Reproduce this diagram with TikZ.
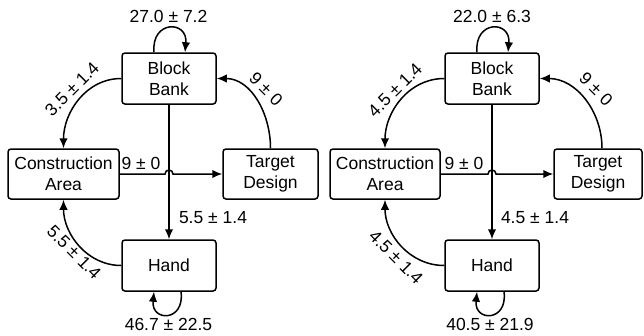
\documentclass[tikz,border=0pt]{standalone}
\usepackage{fontspec}
\setmainfont{Liberation Sans}
\usetikzlibrary{arrows.meta}
\tikzstyle{Box}=[rectangle, rounded corners=3pt, draw=black, line width=1.5pt, align=center, inner sep=0pt, minimum height=51pt]
\tikzstyle{Flow}=[-{Latex[length=10pt,width=8.5pt]}, line width=1.5pt]
\tikzstyle{Lbl}=[inner sep=0pt]

\begin{document}
\begin{tikzpicture}[x=1pt, y=-1pt, font=\fontsize{17.5}{21}\selectfont]
    \useasboundingbox (0,0) rectangle (644,335);

    % left diagram
    \path
    (169,78.5) node[Box, minimum width=94pt] (bbL) {Block\\Bank}
    (63.5,174) node[Box, minimum width=111pt, minimum height=50pt] (caL) {Construction\\Area}
    (270.5,174) node[Box, minimum width=95pt, minimum height=50pt] (tdL) {Target\\Design}
    (169,265.5) node[Box, minimum width=94pt] (hdL) {Hand};

    \draw[Flow] ([xshift=-15pt]bbL.north) .. controls (151,20) and (188,20) .. ([xshift=16pt]bbL.north);
    \draw[Flow] ([xshift=12pt]hdL.south) .. controls (185,322) and (151,322) .. ([xshift=-15pt]hdL.south);
    \draw[Flow] (bbL.west) to[out=180, in=90] (caL.north);
    \draw[Flow] (tdL.north) to[out=90, in=0] (bbL.east);
    \draw[Flow] (hdL.west) to[out=180, in=-90] (caL.south);
    \draw[Flow] (bbL.south) -- (hdL.north);
    \draw[Flow] (caL.east) -- ([xshift=-4pt]caL.east -| bbL.south) arc[start angle=180, end angle=0, radius=4pt] -- (tdL.west);

    \path
    (168.5,16.5) node[Lbl] (bbloopL) {27.0 ± 7.2}
    (168.5,324) node[Lbl] (hdloopL) {46.7 ± 22.5}
    (72,89) node[Lbl, rotate=45] (bbcaL) {3.5 ± 1.4}
    (266,89) node[Lbl, rotate=-45] (tdbbL) {9 ± 0}
    (74,252) node[Lbl, rotate=-45] (hdcaL) {5.5 ± 1.4}
    (213,218) node[Lbl] (bbhdL) {5.5 ± 1.4}
    (141,163) node[Lbl] (catdL) {9 ± 0};

    % right diagram
    \path
    (492,78.5) node[Box, minimum width=94pt] (bbR) {Block\\Bank}
    (385,174) node[Box, minimum width=110pt, minimum height=50pt] (caR) {Construction\\Area}
    (598,174) node[Box, minimum width=88pt, minimum height=50pt] (tdR) {Target\\Design}
    (492,265.5) node[Box, minimum width=94pt] (hdR) {Hand};

    \draw[Flow] ([xshift=-15pt]bbR.north) .. controls (474,20) and (511,20) .. ([xshift=16pt]bbR.north);
    \draw[Flow] ([xshift=12pt]hdR.south) .. controls (508,322) and (474,322) .. ([xshift=-15pt]hdR.south);
    \draw[Flow] (bbR.west) to[out=180, in=90] (caR.north);
    \draw[Flow] ([xshift=4pt]tdR.north) to[out=90, in=0] (bbR.east);
    \draw[Flow] (hdR.west) to[out=180, in=-90] (caR.south);
    \draw[Flow] (bbR.south) -- (hdR.north);
    \draw[Flow] (caR.east) -- ([xshift=-4pt]caR.east -| bbR.south) arc[start angle=180, end angle=0, radius=4pt] -- (tdR.west);

    \path
    (492,16.5) node[Lbl] (bbloopR) {22.0 ± 6.3}
    (490,324) node[Lbl] (hdloopR) {40.5 ± 21.9}
    (395,90) node[Lbl, rotate=45] (bbcaR) {4.5 ± 1.4}
    (596,89) node[Lbl, rotate=-45] (tdbbR) {9 ± 0}
    (396,257) node[Lbl, rotate=-45] (hdcaR) {4.5 ± 1.4}
    (535,218) node[Lbl] (bbhdR) {4.5 ± 1.4}
    (464,163) node[Lbl] (catdR) {9 ± 0};
\end{tikzpicture}
\end{document}
